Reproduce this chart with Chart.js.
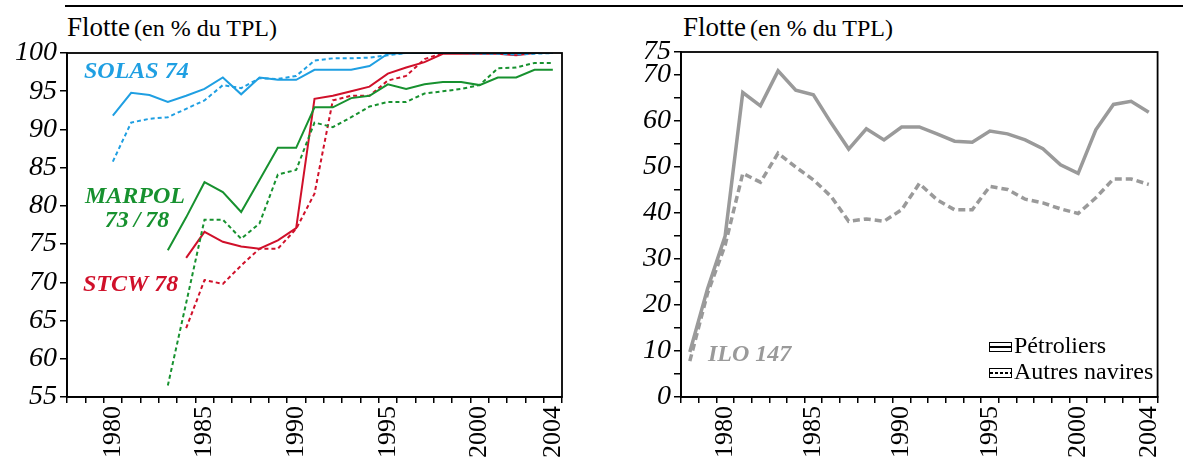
<!DOCTYPE html>
<html>
<head>
<meta charset="utf-8">
<script src="https://cdn.jsdelivr.net/npm/chart.js@4"></script>
<style>
  body { margin: 0; background: #fff; }
  #page { position: relative; width: 1183px; height: 464px; overflow: hidden; }
  canvas { position: absolute; top: 0; }
  .rule { position: absolute; left: 65px; top: 5px; width: 1118px; height: 2px; background: #000; }
  .titre { position: absolute; top: 14px; line-height: 27px; font-family: "Liberation Serif", "Times New Roman", serif; color: #000; white-space: nowrap; }
  .titre .grand { font-size: 27px; }
  .titre .petit { font-size: 24px; }
</style>
</head>
<body>
<div id="page">
  <div class="rule"></div>
  <div class="titre" style="left:67px"><span class="grand">Flotte</span> <span class="petit">(en % du TPL)</span></div>
  <div class="titre" style="left:683px"><span class="grand">Flotte</span> <span class="petit">(en % du TPL)</span></div>
  <canvas id="graphConventions" width="600" height="464" style="left:0"></canvas>
  <canvas id="graphIlo" width="583" height="464" style="left:600px"></canvas>
</div>
<script>
// années (catégories)
const annees = ['1978', '1979', '1980', '1981', '1982', '1983', '1984', '1985', '1986',
  '1987', '1988', '1989', '1990', '1991', '1992', '1993', '1994', '1995', '1996',
  '1997', '1998', '1999', '2000', '2001', '2002', '2003', '2004'];
const anneesAffichees = ['1980', '1985', '1990', '1995', '2000', '2004'];

// graphique de gauche : pétroliers (trait plein) / autres navires (pointillés)
const solasPetroliers = [null, null, 91.8, 94.8, 94.5, 93.6, 94.4, 95.3, 96.8, 94.6, 96.8, 96.5, 96.5,
  97.8, 97.8, 97.8, 98.3, 99.9, 100, 100, 100, 100, 100, 100, 100, 100, 100];
const solasAutres = [null, null, 85.8, 90.9, 91.4, 91.6, 92.7, 93.8, 95.8, 95.4, 96.7, 96.6, 97.0,
  99.0, 99.3, 99.3, 99.4, 99.7, 100, 100, 100, 100, 99.9, 99.9, 99.8, 99.9, 100];
const marpolPetroliers = [null, null, null, null, null, 74.2, 78.5, 83.1, 81.8, 79.2, 83.4, 87.6, 87.6,
  92.9, 92.9, 94.1, 94.4, 95.9, 95.3, 95.9, 96.2, 96.2, 95.8, 96.8, 96.8, 97.8, 97.8];
const marpolAutres = [null, null, null, null, null, 56.5, 67.3, 78.2, 78.2, 75.7, 77.7, 84.1, 84.7,
  90.9, 90.3, 91.6, 93.0, 93.6, 93.6, 94.7, 95.0, 95.3, 95.8, 98.0, 98.1, 98.7, 98.7];
const stcwPetroliers = [null, null, null, null, null, null, 73.2, 76.6, 75.3, 74.7, 74.4, 75.5, 77.1,
  94.0, 94.4, 95.0, 95.6, 97.3, 98.1, 98.8, 99.9, 99.9, 99.9, 99.9, 99.7, 100, 100];
const stcwAutres = [null, null, null, null, null, null, 64.0, 70.3, 69.8, 72.2, 74.4, 74.4, 77.0,
  81.6, 93.8, 94.4, 94.4, 96.4, 97.0, 99.2, 100, 100, 100, 100, 100, 100, 100];

// graphique de droite : ILO 147
const iloPetroliers = [9.8, 23.5, 35.0, 66.2, 63.3, 70.9, 66.7, 65.7, 59.6, 53.9, 58.3, 55.9, 58.7,
  58.7, 57.2, 55.6, 55.4, 57.8, 57.2, 55.9, 54.0, 50.5, 48.6, 58.1, 63.6, 64.3, 61.9];
const iloAutres = [7.8, 22.5, 33.0, 48.6, 46.7, 53.0, 50.0, 47.2, 43.6, 38.2, 38.7, 38.2, 40.7,
  46.4, 42.9, 40.7, 40.7, 45.8, 45.1, 43.0, 42.2, 40.9, 39.9, 43.3, 47.4, 47.4, 46.2];

const bleu = '#1f9fe2';
const vert = '#17912f';
const rouge = '#d0102a';
const gris = '#9a9a9a';
const police = '"Liberation Serif", "Times New Roman", serif';

function serie(data, couleur, pointille, epaisseur) {
  return {
    data: data,
    borderColor: couleur,
    borderWidth: epaisseur,
    borderDash: pointille ? (epaisseur > 2.5 ? [7, 4] : [4, 3]) : [],
    pointRadius: 0,
    tension: 0,
    fill: false
  };
}

// cadre noir autour de la zone de tracé + textes dans le graphique
const cadre = {
  id: 'cadre',
  afterDraw(chart) {
    const ctx = chart.ctx;
    const a = chart.chartArea;
    ctx.save();
    ctx.strokeStyle = '#000';
    ctx.lineWidth = 1.8;
    ctx.strokeRect(a.left, a.top, a.right - a.left, a.bottom - a.top);
    const textes = chart.options.plugins.cadre.textes || [];
    textes.forEach(t => {
      ctx.font = 'italic bold 24px ' + police;
      ctx.fillStyle = t.color;
      ctx.textAlign = t.align || 'left';
      ctx.textBaseline = 'middle';
      ctx.fillText(t.text, t.x, t.y);
    });
    const legende = chart.options.plugins.cadre.legende;
    if (legende) {
      legende.forEach(l => {
        ctx.strokeStyle = '#000';
        ctx.lineWidth = 1;
        ctx.strokeRect(l.x + 0.5, l.y - 4.5, 22, 9);
        ctx.lineWidth = 2;
        ctx.setLineDash(l.dash);
        ctx.beginPath();
        ctx.moveTo(l.x + 1, l.y);
        ctx.lineTo(l.x + 23, l.y);
        ctx.stroke();
        ctx.setLineDash([]);
        ctx.font = '24px ' + police;
        ctx.fillStyle = '#000';
        ctx.textAlign = 'left';
        ctx.textBaseline = 'middle';
        ctx.fillText(l.text, l.x + 25, l.y);
      });
    }
    ctx.restore();
  }
};

function axeX() {
  return {
    type: 'category',
    offset: true,
    afterFit: s => { s.height = 67; },
    grid: { offset: true, drawOnChartArea: false, color: '#000', lineWidth: 1.5, tickLength: 6 },
    border: { color: '#000', width: 1.8 },
    ticks: {
      autoSkip: false,
      maxRotation: 90,
      minRotation: 90,
      color: '#000',
      padding: 3,
      font: { family: police, size: 26 },
      callback: (v, i) => anneesAffichees.includes(annees[i]) ? annees[i] : ''
    }
  };
}

function axeY(min, max, largeur, filtre) {
  return {
    min: min,
    max: max,
    afterFit: s => { s.width = largeur; },
    grid: { drawOnChartArea: false, color: '#000', lineWidth: 1.5, tickLength: 7 },
    border: { color: '#000', width: 1.8 },
    ticks: {
      stepSize: 5,
      autoSkip: false,
      color: '#000',
      padding: 3,
      font: { family: police, size: 28, style: 'italic' },
      callback: v => filtre(v) ? String(v) : ''
    }
  };
}

new Chart(document.getElementById('graphConventions'), {
  type: 'line',
  data: {
    labels: annees,
    datasets: [
      serie(solasPetroliers, bleu, false, 2),
      serie(solasAutres, bleu, true, 2),
      serie(marpolPetroliers, vert, false, 2),
      serie(marpolAutres, vert, true, 2),
      serie(stcwPetroliers, rouge, false, 2),
      serie(stcwAutres, rouge, true, 2)
    ]
  },
  options: {
    responsive: false,
    animation: false,
    layout: { padding: { top: 53, right: 38, left: 0, bottom: 0 } },
    plugins: {
      legend: { display: false },
      tooltip: { enabled: false },
      cadre: {
        textes: [
          { text: 'SOLAS 74', x: 84, y: 72, color: bleu },
          { text: 'MARPOL', x: 85, y: 197, color: vert },
          { text: '73\u2009/\u200978', x: 137, y: 221, color: vert, align: 'center' },
          { text: 'STCW 78', x: 83, y: 285, color: rouge }
        ]
      }
    },
    scales: {
      x: axeX(),
      y: axeY(55, 100, 67, v => true)
    }
  },
  plugins: [cadre]
});

new Chart(document.getElementById('graphIlo'), {
  type: 'line',
  data: {
    labels: annees,
    datasets: [
      serie(iloPetroliers, gris, false, 3.5),
      serie(iloAutres, gris, true, 3.5)
    ]
  },
  options: {
    responsive: false,
    animation: false,
    layout: { padding: { top: 52, right: 2, left: 0, bottom: 0 } },
    plugins: {
      legend: { display: false },
      tooltip: { enabled: false },
      cadre: {
        textes: [
          { text: 'ILO 147', x: 108, y: 355, color: gris }
        ],
        legende: [
          { text: 'Pétroliers', x: 389, y: 347, dash: [] },
          { text: 'Autres navires', x: 389, y: 373, dash: [3, 2] }
        ]
      }
    },
    scales: {
      x: axeX(),
      y: axeY(0, 75, 81, v => v % 10 === 0 || v === 75)
    }
  },
  plugins: [cadre]
});
</script>
</body>
</html>
